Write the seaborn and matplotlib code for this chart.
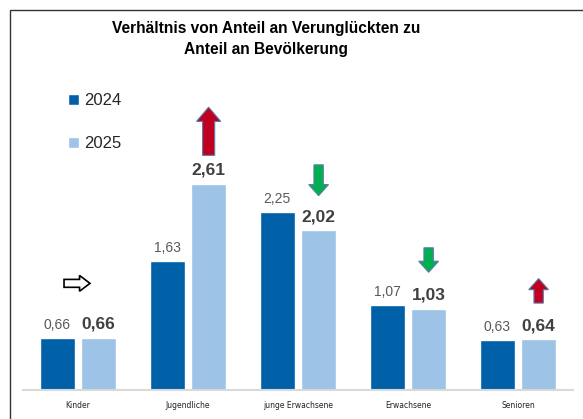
import pandas as pd
import matplotlib
matplotlib.use("Agg")
import matplotlib.pyplot as plt
import seaborn as sns
from matplotlib.patches import FancyArrow, Rectangle

# -------------------------------
# Data
# -------------------------------

categories = ["Kinder", "Jugendliche", "junge Erwachsene", "Erwachsene", "Senioren"]
years = ["2024", "2025"]
values_2024 = [0.66, 1.63, 2.25, 1.07, 0.63]
values_2025 = [0.66, 2.61, 2.02, 1.03, 0.64]
# trend marker per category: right / up / down
trend = ["right", "up", "down", "down", "up"]

df = pd.DataFrame({
    "Kategorie": categories * 2,
    "Jahr": [years[0]] * len(categories) + [years[1]] * len(categories),
    "Wert": values_2024 + values_2025,
})

dark_blue = "#0060A8"
light_blue = "#9DC3E6"

# -------------------------------
# Plot
# -------------------------------

sns.set_style("white")
plt.rcParams["font.family"] = ["Liberation Sans", "DejaVu Sans"]

fig = plt.figure(figsize=(5.83, 4.19), dpi=100)
ax = fig.add_axes([23 / 583, 29 / 419, 550 / 583, 330 / 419])

sns.barplot(
    data=df,
    x="Kategorie",
    y="Wert",
    hue="Jahr",
    palette=[dark_blue, light_blue],
    width=0.75,
    gap=0.15,
    saturation=1,
    ax=ax,
)

ax.set_xlim(-0.5, len(categories) - 0.5)
ax.set_ylim(0, 330 / 79)
ax.set_xlabel("")
ax.set_ylabel("")
ax.set_yticks([])
ax.tick_params(axis="x", length=0, pad=8, labelsize=5.5, labelcolor="#222222")
for lab in ax.get_xticklabels():
    lab.set_fontfamily("DejaVu Sans")
sns.despine(ax=ax, left=True, top=True, right=True)
ax.spines["bottom"].set_color("#D9D9D9")
ax.spines["bottom"].set_linewidth(1.5)

# value labels
offset = 0.1875
for i, (v1, v2) in enumerate(zip(values_2024, values_2025)):
    ax.text(i - offset, v1 + 0.08, f"{v1:.2f}".replace(".", ","),
            ha="center", va="bottom", fontsize=10, color="#595959")
    ax.text(i + offset, v2 + 0.08, f"{v2:.2f}".replace(".", ","),
            ha="center", va="bottom", fontsize=12.5, fontweight="bold",
            color="#404040")

# trend arrows
for i, (t, v) in enumerate(zip(trend, values_2025)):
    if t == "right":
        a = FancyArrow(i - 0.127, v + 0.69, 0.236, 0, width=0.1,
                       head_width=0.2, head_length=0.095,
                       length_includes_head=True,
                       facecolor="white", edgecolor="black", linewidth=1.2)
    else:
        big = v > 2.5
        length = 0.61 if big else (0.39 if v > 1.5 else 0.31)
        sw = 0.11 if big else 0.085
        hw = 0.22 if big else 0.18
        hl = 0.18 if big else 0.14
        color = "#C00020" if t == "up" else "#00B050"
        if t == "up":
            y0 = v + 0.36 if big else v + 0.46
            a = FancyArrow(i + offset, y0, 0, length, width=sw,
                           head_width=hw, head_length=hl,
                           length_includes_head=True,
                           facecolor=color, edgecolor="#5A7BA8", linewidth=0.8)
        else:
            y0 = v + 0.83 if v > 1.5 else v + 0.77
            a = FancyArrow(i + offset, y0, 0, -length, width=sw,
                           head_width=hw, head_length=hl,
                           length_includes_head=True,
                           facecolor=color, edgecolor="#5A7BA8", linewidth=0.8)
    ax.add_patch(a)

# legend
leg = ax.legend(
    loc="upper left",
    bbox_to_anchor=(0.055, 0.945),
    frameon=False,
    fontsize=12,
    handlelength=0.65,
    handleheight=0.65,
    handletextpad=0.3,
    labelspacing=1.7,
)

fig.text(266 / 583, 1 - 39 / 419,
         "Verhältnis von Anteil an Verunglückten zu\nAnteil an Bevölkerung",
         ha="center", va="center", fontsize=11.2, fontweight="bold",
         linespacing=1.5, color="black")

# outer frame (left and top edges)
fig.add_artist(Rectangle((10 / 583, -0.1), 1.2, 1.1 - 10 / 419,
                         transform=fig.transFigure, fill=False,
                         edgecolor="#333333", linewidth=1.0))

fig.savefig("out.png", dpi=100)
plt.close()
